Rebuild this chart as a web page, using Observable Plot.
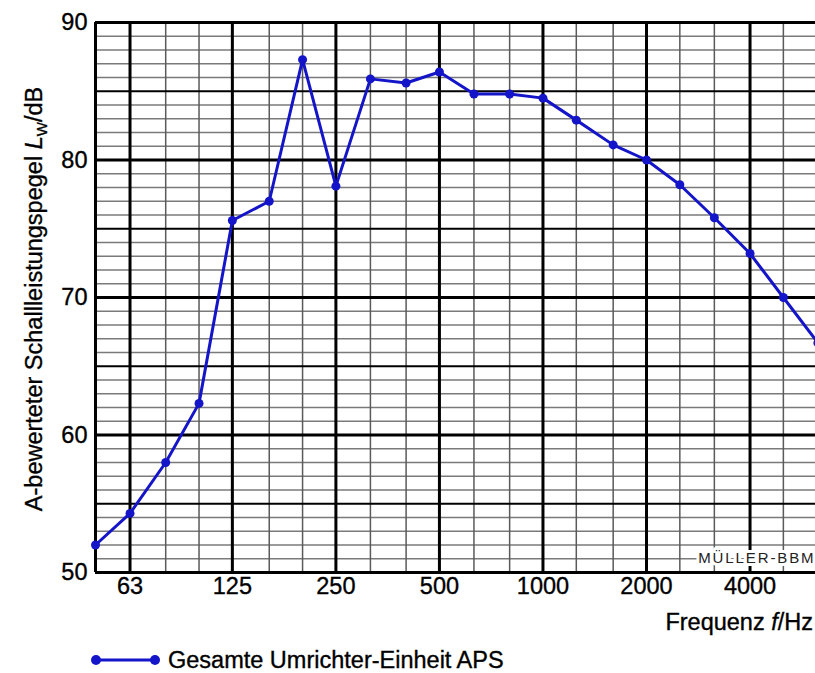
<!DOCTYPE html>
<html><head><meta charset="utf-8">
<script src="https://cdn.jsdelivr.net/npm/d3@7"></script>
<script src="https://cdn.jsdelivr.net/npm/@observablehq/plot@0.6"></script>
<style>
body{margin:0;background:#fff;font-family:"Liberation Sans",Arial,sans-serif;overflow:hidden;}
#legend{height:33px;position:relative;}
.heavy{stroke:#000;stroke-width:0.35px;}
</style></head><body><div id="chart"></div><div id="legend"></div>
<script>
const freqs = [50,63,80,100,125,160,200,250,315,400,500,630,800,1000,1250,1600,2000,2500,3150,4000,5000,6300];
const levels = [52.0,54.3,58.0,62.3,75.6,77.0,87.3,78.1,85.9,85.6,86.4,84.8,84.8,84.5,82.9,81.1,80.0,78.2,75.8,73.2,70.0,66.7];
const xTicks = [63,125,250,500,1000,2000,4000];
const xTickLabels = ["63","125","250","500","1000","2000","4000"];
const yTicks = [50,60,70,80,90];
const thirdOctaveGrid = [80,100,160,200,315,400,630,800,1250,1600,2500,3150,5000];
const minorDb = [51,52,53,54,56,57,58,59,61,62,63,64,66,67,68,69,71,72,73,74,76,77,78,79,81,82,83,84,86,87,88,89];
const midDb = [55,65,75,85];
const majorDb = [60,70,80];
const seriesName = "Gesamte Umrichter-Einheit APS";
const brand = "MÜLLER-BBM";
const blue = "#1414c8";
const FS = 23.5;

const data = freqs.map((f, i) => ({f, L: levels[i]}));

const plot = Plot.plot({
  width: 815, height: 640,
  marginLeft: 95, marginRight: 0, marginTop: 22, marginBottom: 68,
  style: {fontFamily: "Liberation Sans, Arial, sans-serif", fontSize: FS + "px", color: "#000", background: "#fff", overflow: "hidden"},
  x: {type: "log", domain: [50, 6200], label: null, axis: null},
  y: {domain: [50, 90], label: null},
  marks: [
    Plot.ruleY(minorDb, {stroke: "#7a7a7a", strokeWidth: 1.5}),
    Plot.ruleX(thirdOctaveGrid, {stroke: "#5a5a5a", strokeWidth: 1.5}),
    Plot.ruleY(midDb, {stroke: "#000", strokeWidth: 2}),
    Plot.ruleY(majorDb, {stroke: "#000", strokeWidth: 3}),
    Plot.ruleX(xTicks, {stroke: "#000", strokeWidth: 3}),
    Plot.text([brand], {frameAnchor: "bottom-right", dx: 0, dy: -10, fontSize: 15, fill: "#222", stroke: "white", strokeWidth: 6, text: d => d, textAnchor: "end", className: "brand"}),
    Plot.ruleY([50, 90], {stroke: "#000", strokeWidth: 3}),
    Plot.ruleX([50], {stroke: "#000", strokeWidth: 3}),
    Plot.line(data, {x: "f", y: "L", stroke: blue, strokeWidth: 3}),
    Plot.dot(data, {x: "f", y: "L", r: 4.5, fill: blue}),
    Plot.text(xTicks, {x: d => d, frameAnchor: "bottom", dy: 21.5, text: (d, i) => xTickLabels[i], fontSize: FS, fill: "#000", className: "heavy"}),
    Plot.axisY({ticks: yTicks, tickSize: 0, tickPadding: 8, label: null, fontSize: FS, className: "heavy"})
  ]
});
document.getElementById("chart").appendChild(plot);

const svg = d3.select(plot);
svg.selectAll(".brand text").attr("letter-spacing", "1.9px");
// y-axis title
const yl = svg.append("text")
  .attr("transform", "translate(42,299) rotate(-90)")
  .attr("text-anchor", "middle")
  .attr("font-size", FS)
  .attr("class", "heavy")
  .attr("fill", "#000");
yl.append("tspan").text("A-bewerteter Schallleistungspegel ");
yl.append("tspan").attr("font-style", "italic").text("L");
yl.append("tspan").attr("font-size", 15).attr("dy", 5).text("W");
yl.append("tspan").attr("dy", -5).text("/dB");
// x-axis title
const xl = svg.append("text")
  .attr("x", 813).attr("y", 630)
  .attr("text-anchor", "end")
  .attr("font-size", FS)
  .attr("class", "heavy")
  .attr("fill", "#000");
xl.append("tspan").text("Frequenz ");
xl.append("tspan").attr("font-style", "italic").text("f");
xl.append("tspan").text("/Hz");

// legend
const lg = d3.select("#legend").append("svg").attr("width", 815).attr("height", 33);
lg.append("line").attr("x1", 96).attr("x2", 155).attr("y1", 20).attr("y2", 20).attr("stroke", blue).attr("stroke-width", 3);
lg.selectAll("circle").data([96, 155]).join("circle").attr("cx", d => d).attr("cy", 20).attr("r", 5).attr("fill", blue);
lg.append("text").attr("x", 168).attr("y", 28).attr("font-size", FS).attr("class", "heavy").attr("font-family", "Liberation Sans, Arial, sans-serif").text(seriesName);
</script></body></html>
